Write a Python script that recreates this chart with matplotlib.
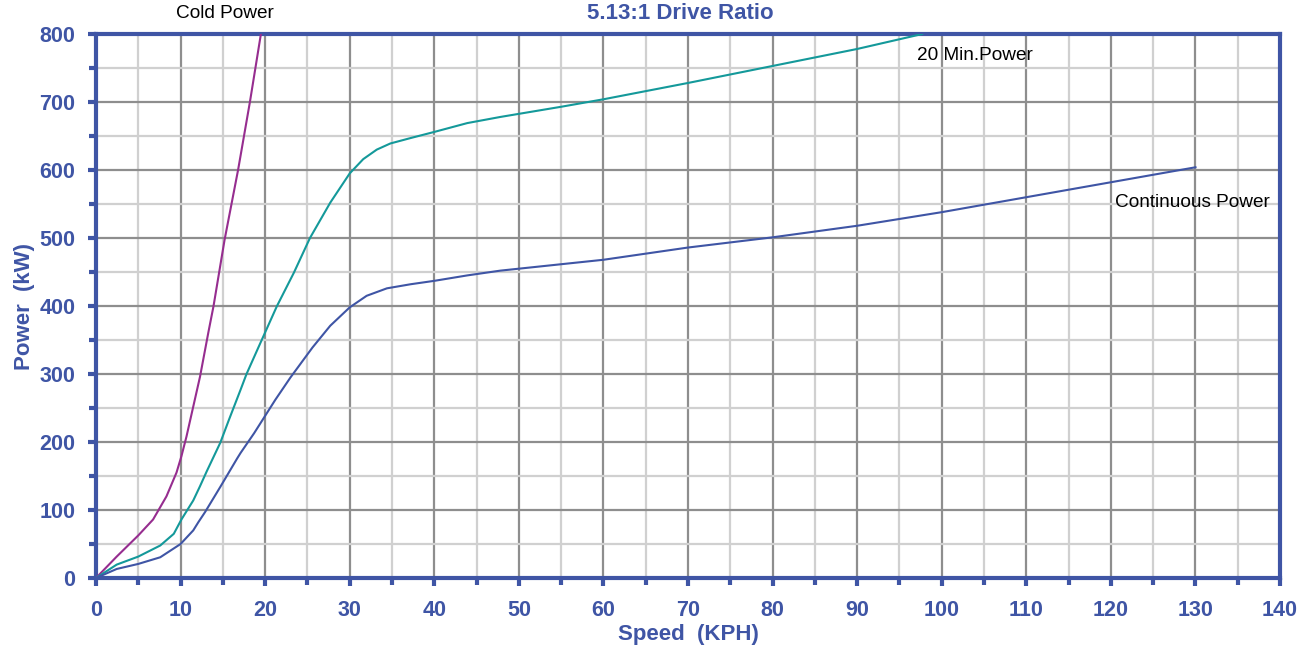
import matplotlib
matplotlib.use('Agg')
import matplotlib.pyplot as plt
from matplotlib.ticker import MultipleLocator

plt.rcParams['font.family'] = ['Liberation Sans', 'DejaVu Sans']

# values
cold_speed = [0, 2.45, 5.0, 6.75, 8.33, 9.52, 10.1, 10.7, 11.5, 12.3, 13.3,
              13.9, 15.2, 16.8, 18.2, 19.5]
cold_power = [0, 31.5, 62.6, 86, 120, 155, 179, 208, 252, 296, 362,
              400, 497, 600, 700, 800]

min20_speed = [0, 2.45, 5, 7.6, 9.2, 10.1, 11.5, 12.3, 13.1, 14.7, 15.7, 17.1,
               17.8, 19.2, 21.4, 23.4, 25.3, 27.7, 30, 31.6, 33.2, 34.8, 37.2,
               40, 43.9, 47.8, 55, 60, 70, 80, 90, 97.7]
min20_power = [0, 19.7, 31.5, 47.8, 65, 86, 114, 135, 157, 199, 232, 277,
               300, 339, 400, 449, 500, 552, 595, 616, 630, 639, 647,
               656, 669, 678, 693, 704, 728, 753, 778, 800]

cont_speed = [0, 2.45, 5, 7.6, 10, 11.5, 12.1, 12.9, 14.7, 16.7, 17.1, 18.7,
              21.2, 23, 25.6, 27.7, 30, 32, 34.4, 37.2, 40, 43.9, 47.8, 60,
              70, 80, 90, 100, 110, 120, 130]
cont_power = [0, 13.3, 20.7, 30.5, 50, 70, 82, 97, 134, 176, 184, 213,
              262, 295, 339, 371, 398, 415, 426, 432, 437, 445, 452, 468,
              486, 501, 518, 538, 560, 582, 604]

BLUE = '#3f55a5'

fig = plt.figure(figsize=(13.13, 6.54), dpi=100)
ax = fig.add_axes([0.0731, 0.1162, 0.9018, 0.8318])

ax.plot(cold_speed, cold_power, color='#962d8f', lw=1.5, zorder=3)
ax.plot(min20_speed, min20_power, color='#14999a', lw=1.5, zorder=3)
ax.plot(cont_speed, cont_power, color='#3f55a5', lw=1.5, zorder=3)

ax.set_xlim(0, 140)
ax.set_ylim(0, 800)
ax.xaxis.set_major_locator(MultipleLocator(10))
ax.xaxis.set_minor_locator(MultipleLocator(5))
ax.yaxis.set_major_locator(MultipleLocator(100))
ax.yaxis.set_minor_locator(MultipleLocator(50))

ax.grid(which='minor', color='#d0d0d0', lw=1.6, zorder=0)
ax.grid(which='major', color='#8e8e8e', lw=1.6, zorder=1)
ax.set_axisbelow(True)

for s in ax.spines.values():
    s.set_color(BLUE)
    s.set_linewidth(3)

ax.tick_params(which='both', colors=BLUE, direction='out', width=3)
ax.tick_params(which='major', length=6, labelsize=15.5)
ax.tick_params(which='minor', length=5)
ax.tick_params(axis='x', which='major', pad=10)
ax.tick_params(axis='y', which='major', pad=9)
for lab in ax.get_xticklabels() + ax.get_yticklabels():
    lab.set_fontweight('bold')

ax.set_xlabel('Speed  (KPH)', color=BLUE, fontsize=16, fontweight='bold', labelpad=2)
ax.set_ylabel('Power  (kW)', color=BLUE, fontsize=16, fontweight='bold', labelpad=3)

fig.text(0.518, 0.980, '5.13:1 Drive Ratio', color=BLUE, fontsize=16,
         fontweight='bold', ha='center', va='center')
fig.text(0.171, 0.980, 'Cold Power', fontsize=13.7, ha='center', va='center')
ax.text(97.1, 769, '20 Min.Power', fontsize=13.7, ha='left', va='center')
ax.text(120.5, 552, 'Continuous Power', fontsize=13.7, ha='left', va='center')

fig.savefig('out.png', dpi=100)
